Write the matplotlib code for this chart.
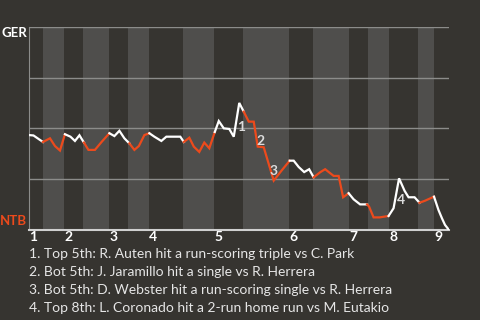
import numpy as np
import matplotlib.pyplot as plt

# win probability for GER (1 = GER wins, 0 = NTB wins), by play
play_x = [0, 0.9, 1.9, 2.8, 4.2, 5.2, 6.2, 7.2, 8.3, 9.2, 10.1, 11.0,
          11.9, 13.2, 14.6, 16.1, 17.1, 18.1, 19.1, 20.1, 21.1, 22.0, 23.1, 24.1,
          25.1, 26.5, 27.5, 28.9, 30.3, 31.0, 32.1, 33.0, 34.1, 35.1, 36.1, 37.2,
          38.0, 39.0, 40.1, 41.0, 42.1, 43.0, 44.0, 45.0, 45.8, 47.0, 49.0, 50.5,
          52.2, 53.0, 54.0, 55.1, 56.1, 57.0, 58.3, 59.3, 61.0, 62.0, 62.9, 64.0,
          65.0, 66.3, 67.7, 68.1, 69.0, 70.2, 72.0, 73.0, 74.1, 75.2, 76.0, 77.2,
          78.2, 79.3, 81.1, 82.0, 82.7, 83.3, 84.1]
ger_wp = [0.467, 0.465, 0.448, 0.433, 0.451, 0.413, 0.391, 0.471, 0.459, 0.438, 0.466, 0.430,
          0.394, 0.394, 0.435, 0.476, 0.462, 0.488, 0.451, 0.426, 0.394, 0.413, 0.467, 0.476,
          0.459, 0.438, 0.459, 0.459, 0.459, 0.433, 0.454, 0.410, 0.384, 0.430, 0.402, 0.482,
          0.536, 0.500, 0.497, 0.459, 0.625, 0.582, 0.533, 0.533, 0.410, 0.407, 0.243, 0.290,
          0.341, 0.341, 0.310, 0.285, 0.299, 0.259, 0.284, 0.299, 0.266, 0.266, 0.161, 0.181,
          0.151, 0.126, 0.126, 0.115, 0.062, 0.062, 0.069, 0.107, 0.254, 0.193, 0.161, 0.161,
          0.134, 0.144, 0.164, 0.098, 0.057, 0.025, 0.0]

# start of each half inning (top 1st, bot 1st, top 2nd, ...)
half_starts = [0, 2.9, 7.1, 10.9, 16.1, 19.9, 24.1, 30.9, 37.1, 42.9,
               52.1, 56.9, 64.1, 67.9, 72.1, 77.9, 81.1]
game_end = 84.1
innings = ['1', '2', '3', '4', '5', '6', '7', '8', '9']

# key plays: index of the point reached by the play
event_idx = [40, 44, 46, 68]
events = ['1. Top 5th: R. Auten hit a run-scoring triple vs C. Park',
          '2. Bot 5th: J. Jaramillo hit a single vs R. Herrera',
          '3. Bot 5th: D. Webster hit a run-scoring single vs R. Herrera',
          '4. Top 8th: L. Coronado hit a 2-run home run vs M. Eutakio']

bg = '#363430'
band = '#4f4e4c'
orange = '#ec4a1c'
white = '#ffffff'

plt.rcParams['font.family'] = ['Lato', 'DejaVu Sans']

fig = plt.figure(figsize=(4.8, 3.2), dpi=100, facecolor=bg)
ax = fig.add_axes([29 / 480, 90 / 320, 420 / 480, 203.3 / 320])
ax.set_facecolor(bg)

bounds = half_starts + [game_end]
for i in range(1, len(half_starts), 2):
    ax.axvspan(bounds[i], bounds[i + 1], color=band, lw=0, zorder=0)

for yv in [0.25, 0.5, 0.75, 1.0]:
    ax.axhline(yv, color='#8c8c8a', lw=1, zorder=1)

# colour each stretch of the line by which team was batting
x = np.array(play_x)
y = np.array(ger_wp)
mids = (x[:-1] + x[1:]) / 2
half = np.searchsorted(half_starts, mids, side='right') - 1
start = 0
for k in range(1, len(mids) + 1):
    if k == len(mids) or half[k] % 2 != half[start] % 2:
        col = white if half[start] % 2 == 0 else orange
        ax.plot(x[start:k + 1], y[start:k + 1], color=col, lw=1.6,
                solid_joinstyle='miter', zorder=3)
        start = k

for n, idx in enumerate(event_idx):
    mx = (x[idx - 1] + x[idx]) / 2
    my = (y[idx - 1] + y[idx]) / 2
    ax.annotate(str(n + 1), (mx, my), xytext=(3.5, -5), textcoords='offset points',
                color='#dcdcdc', fontsize=10, fontweight='bold',
                ha='center', va='center', zorder=4)

ax.set_xlim(0, game_end)
ax.set_ylim(0, 1)
ax.set_xticks(bounds[0:-1:2])
ax.set_xticklabels(innings, color=white, fontsize=10, fontweight='bold', ha='left')
ax.tick_params(axis='x', length=0, pad=1)
ax.set_yticks([])
for s in ['top', 'right']:
    ax.spines[s].set_visible(False)
ax.spines['left'].set_color('#8c8c8a')
ax.spines['bottom'].set_color('#d0d0d0')
ax.spines['bottom'].set_linewidth(1.5)

fig.text(27 / 480, 1 - 33 / 320, 'GER', color=white, fontsize=9.5, fontweight='bold',
         ha='right', va='center')
fig.text(27 / 480, 1 - 221 / 320, 'NTB', color=orange, fontsize=9.5, fontweight='bold',
         ha='right', va='center')

for n, ev in enumerate(events):
    fig.text(29 / 480, 1 - (254 + 18 * n) / 320, ev, color='#e6e6e6', fontsize=10,
             ha='left', va='center')

fig.savefig('out.png', dpi=100, facecolor=bg)
